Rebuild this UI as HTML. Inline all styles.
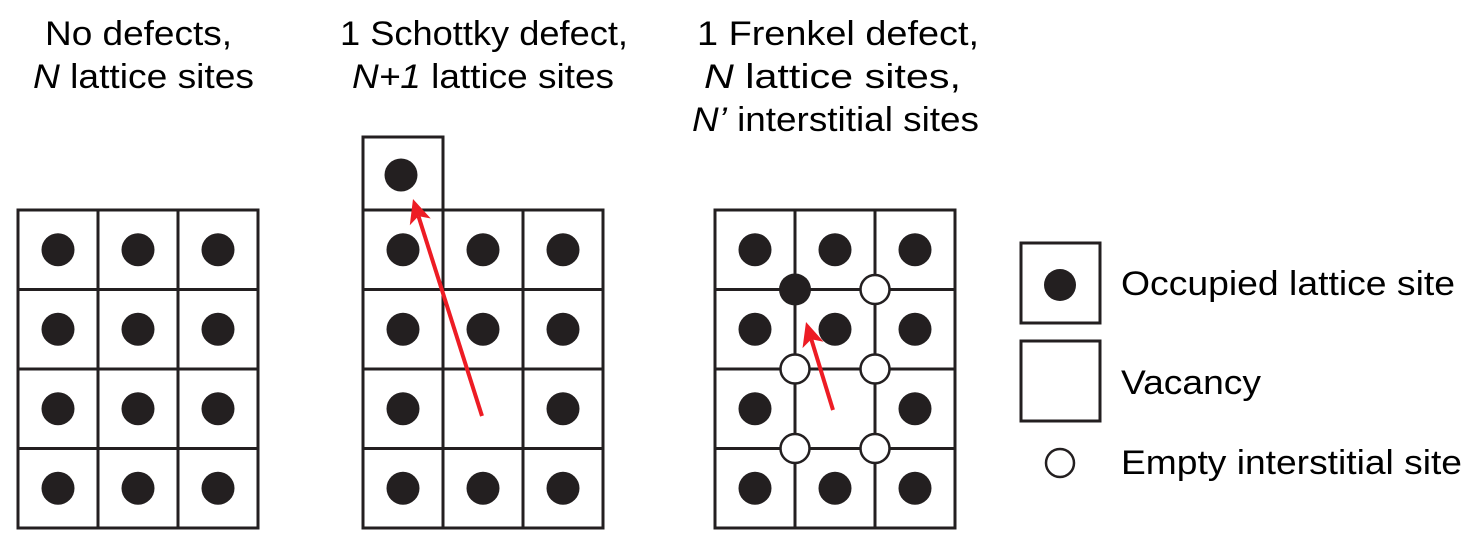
<!DOCTYPE html>
<html><head><meta charset="utf-8"><style>
html,body{margin:0;padding:0;background:#fff;}
svg{display:block;font-family:"Liberation Sans",Arial,sans-serif;}
</style></head><body>
<svg id="fig" width="1482" height="537" viewBox="0 0 1482 537" xmlns="http://www.w3.org/2000/svg">
<g font-size="34" fill="#000" lengthAdjust="spacingAndGlyphs">
<text x="45" y="45" textLength="187" lengthAdjust="spacingAndGlyphs">No defects,</text>
<text x="33" y="88" textLength="221" lengthAdjust="spacingAndGlyphs"><tspan font-style="italic">N</tspan> lattice sites</text>
<text x="340" y="45" textLength="288" lengthAdjust="spacingAndGlyphs">1 Schottky defect,</text>
<text x="352" y="88" textLength="262" lengthAdjust="spacingAndGlyphs"><tspan font-style="italic">N+1</tspan> lattice sites</text>
<text x="697" y="45" textLength="282" lengthAdjust="spacingAndGlyphs">1 Frenkel defect,</text>
<text x="704" y="88" textLength="257" lengthAdjust="spacingAndGlyphs"><tspan font-style="italic">N</tspan> lattice sites,</text>
<text x="692" y="131" textLength="287" lengthAdjust="spacingAndGlyphs"><tspan font-style="italic">N’</tspan> interstitial sites</text>
</g>
<g id="grids"></g>
<g font-size="34">
<rect x="1021" y="243" width="79" height="80" fill="none" stroke="#231f20" stroke-width="3"/>
<circle cx="1060" cy="285" r="16" fill="#231f20"/>
<text x="1121" y="295" textLength="334" lengthAdjust="spacingAndGlyphs">Occupied lattice site</text>
<rect x="1021" y="341" width="79" height="80" fill="none" stroke="#231f20" stroke-width="3"/>
<text x="1121" y="394" textLength="140" lengthAdjust="spacingAndGlyphs">Vacancy</text>
<circle cx="1060" cy="463" r="14" fill="#fff" stroke="#231f20" stroke-width="2.5"/>
<text x="1121" y="474" textLength="341" lengthAdjust="spacingAndGlyphs">Empty interstitial site</text>
</g>
</svg>
<script>
const NS="http://www.w3.org/2000/svg";
const g=document.getElementById('grids');
const grid1Occ=[[1,1,1],[1,1,1],[1,1,1],[1,1,1]];
const grid2Occ=[[1,1,1],[1,1,1],[1,0,1],[1,1,1]];
const grid3Occ=[[1,1,1],[1,1,1],[1,0,1],[1,1,1]];
const grids=[{name:'perfect',x:18,occ:grid1Occ},{name:'schottky',x:363,occ:grid2Occ},{name:'frenkel',x:715,occ:grid3Occ}];
const Y0=210, CW=80, CH=79.5;
function mk(tag,attrs){const e=document.createElementNS(NS,tag);for(const k in attrs)e.setAttribute(k,attrs[k]);return e;}
grids.forEach(gr=>{
  gr.occ.forEach((row,r)=>row.forEach((v,c)=>{
    const x=gr.x+c*CW,y=Y0+r*CH;
    const rc=mk('rect',{x:x,y:y,width:CW,height:CH,fill:'none',stroke:'#231f20','stroke-width':3});
    
    
    g.appendChild(rc);
    if(v){const d=mk('circle',{cx:x+CW/2,cy:y+CH/2,r:16.5,fill:'#231f20'});
      
      
      g.appendChild(d);}
  }));
});
const ex=mk('rect',{x:363,y:137,width:80,height:73,fill:'none',stroke:'#231f20','stroke-width':3});


g.appendChild(ex);
const exd=mk('circle',{cx:401,cy:175,r:16.5,fill:'#231f20'});


g.appendChild(exd);
const interCol=[1,2,1,2,1,2];
const interRow=[1,1,2,2,3,3];
const interFilled=[1,0,0,0,0,0];
interCol.forEach((c,i)=>{
  const cx=715+c*CW, cy=Y0+interRow[i]*CH;
  const ci=mk('circle',{cx:cx,cy:cy,r:interFilled[i]?16:14.5,fill:interFilled[i]?'#231f20':'#fff',stroke:'#231f20','stroke-width':interFilled[i]?0:2.5});
  
  
  g.appendChild(ci);
});
function arrow(x1,y1,x2,y2,name){
  const a=Math.atan2(y2-y1,x2-x1), L=24, W=11;
  const bx=x2-L*Math.cos(a), by=y2-L*Math.sin(a);
  const ln=mk('line',{x1:x1,y1:y1,x2:bx+6*Math.cos(a),y2:by+6*Math.sin(a),stroke:'#ed1c24','stroke-width':4});
  
  
  g.appendChild(ln);
  const px=-Math.sin(a),py=Math.cos(a);
  const hd=mk('polygon',{points:`${x2},${y2} ${bx+W*px},${by+W*py} ${bx+6*Math.cos(a)},${by+6*Math.sin(a)} ${bx-W*px},${by-W*py}`,fill:'#ed1c24'});
  
  
  g.appendChild(hd);
}
arrow(482,416,413,199,'schottky-arrow');
arrow(833,410,806,322,'frenkel-arrow');
</script>
</body></html>
